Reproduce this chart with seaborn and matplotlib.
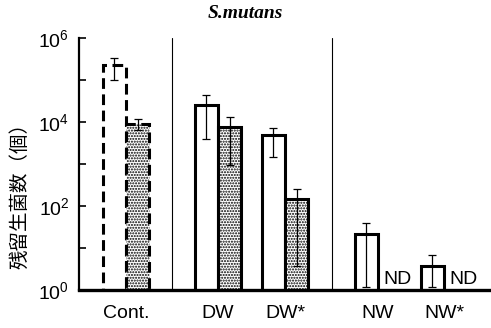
import numpy as np
import pandas as pd
import matplotlib
matplotlib.use("Agg")
import matplotlib.pyplot as plt
import seaborn as sns

# ---- data ----
categories = ["Cont.", "DW", "DW*", "NW", "NW*"]
series = ["open", "dotted"]
open_vals = [2.3e5, 2.5e4, 4.9e3, 22.0, 3.7]
open_hi = [3.3e5, 4.4e4, 7.3e3, 40.0, 6.8]
open_lo = [1.0e5, 3.9e3, 1.45e3, 1.16, 1.2]
dotted_vals = [9.0e3, 7.8e3, 145.0, np.nan, np.nan]
dotted_hi = [1.18e4, 1.34e4, 254.0, np.nan, np.nan]
dotted_lo = [6.4e3, 950.0, 3.8, np.nan, np.nan]
nd_label = "ND"
ytick_vals = [1, 1e2, 1e4, 1e6]
ytick_labels = [r"$\mathregular{10^{0}}$", r"$\mathregular{10^{2}}$",
                r"$\mathregular{10^{4}}$", r"$\mathregular{10^{6}}$"]
title = "S.mutans"
ylabel = "残留生菌数（個）"

# ---- layout (group centres along x, unequal gaps as in the reference) ----
group_pos = [0, 92, 159, 252, 318]

sns.set_theme(style="white")
plt.rcParams["font.family"] = ["Liberation Sans", "DejaVu Sans"]
plt.rcParams["mathtext.fontset"] = "custom"
plt.rcParams["mathtext.rm"] = "Liberation Sans"
plt.rcParams["hatch.linewidth"] = 1.0
plt.rcParams["text.color"] = "black"

df = pd.DataFrame({
    "x": group_pos * 2,
    "cat": categories * 2,
    "series": [series[0]] * 5 + [series[1]] * 5,
    "value": open_vals + dotted_vals,
    "lo": open_lo + dotted_lo,
    "hi": open_hi + dotted_hi,
})

fig = plt.figure(figsize=(4.91, 3.28), dpi=100)
ax = fig.add_axes([79 / 491, 1 - 290 / 328, 1 - 79 / 491, (290 - 38) / 328])

sns.barplot(data=df.dropna(subset=["value"]), x="x", y="value", hue="series",
            hue_order=series, native_scale=True,
            width=0.712, dodge=True, errorbar=None, legend=False,
            palette=["white", "white"], edgecolor="black", linewidth=2.2, ax=ax)

ax.set_yscale("log")
ax.set_ylim(1, 1e6)
ax.set_xlim(-47, 365)

# style bars and add error bars
for p in ax.patches:
    cx = p.get_x() + p.get_width() / 2
    h = p.get_height()
    row = df.iloc[(df["value"] - h).abs().argsort().iloc[0]]
    if row["series"] == "dotted":
        p.set_hatch("......")
    if row["cat"] == "Cont.":
        p.set_linestyle((0, (3.5, 1.8)))
    ax.errorbar([cx], [row["value"]],
                yerr=[[row["value"] - row["lo"]], [row["hi"] - row["value"]]],
                fmt="none", ecolor="black", elinewidth=0.9, capsize=2.6,
                capthick=0.9, zorder=5)
    if row["cat"] in ("NW", "NW*") and row["series"] == "open":
        ax.text(cx + p.get_width() * 0.75, 1.12, nd_label, ha="left", va="bottom",
                fontsize=14, color="black")

# separators between groups
for xs in [(group_pos[0] + group_pos[1]) / 2, (group_pos[2] + group_pos[3]) / 2]:
    ax.plot([xs, xs], [1, 1e6], color="black", lw=0.8, zorder=1)

ax.set_yticks(ytick_vals)
ax.set_yticklabels(ytick_labels, fontsize=14)
ax.set_yticks([10, 1e3, 1e5], minor=True)
ax.yaxis.set_minor_formatter(matplotlib.ticker.NullFormatter())
ax.tick_params(axis="y", which="both", direction="in", length=5, width=1.2,
               left=True, pad=7, colors="black")
ax.set_xticks(group_pos)
ax.set_xticklabels(categories, fontsize=14)
ax.tick_params(axis="x", length=0, pad=11, colors="black")
ax.set_xlabel("")
ax.set_ylabel("")

for s in ["top", "right"]:
    ax.spines[s].set_visible(False)
ax.spines["left"].set_linewidth(1.6)
ax.spines["bottom"].set_linewidth(2.4)
ax.spines["left"].set_color("black")
ax.spines["bottom"].set_color("black")

fig.text(0.5, 1 - 13 / 328, title, ha="center", va="center", fontsize=14,
         family="Liberation Serif", fontweight="bold", fontstyle="italic",
         color="black")
fig.text(20 / 491, 1 - 191 / 328, ylabel, rotation=90, ha="center", va="center",
         fontsize=14, family=["Noto Sans CJK JP", "DejaVu Sans"], color="black")

fig.savefig("out.png", dpi=100)
